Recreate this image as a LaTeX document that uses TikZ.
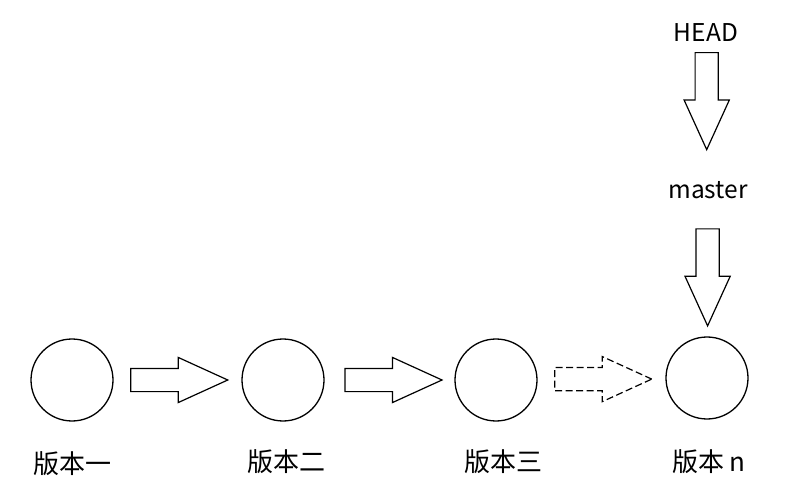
\documentclass[tikz,border=0pt]{standalone}
\usepackage{fontspec}
\setmainfont{Noto Sans CJK SC}
\usetikzlibrary{shapes.arrows,calc}

\begin{document}
\begin{tikzpicture}[
  x=1pt, y=-1pt,
  ver/.style={draw, circle, line width=1.3pt, minimum size=82pt, inner sep=0pt},
  lbl/.style={font=\fontsize{26}{30}\selectfont, inner sep=0pt},
  ref/.style={font=\fontsize{24.5}{28}\selectfont, inner sep=0pt},
  fat/.style={draw, single arrow, line width=1.2pt, inner sep=11pt,
    minimum height=97pt, minimum width=44pt, single arrow head extend=11pt,
    single arrow head indent=0pt, single arrow tip angle=49},
  fatdash/.style={fat, dash pattern=on 7pt off 3.5pt}
]
\useasboundingbox (0,0) rectangle (790,486);
\node[ver] (v1) at (72,380) {};
\node[ver] (v2) at (283,380) {};
\node[ver] (v3) at (496,380) {};
\node[ver] (vn) at (707,378) {};
\node[lbl] (l1) at (72,464) {版本一};
\node[lbl] (l2) at (286,462) {版本二};
\node[lbl] (l3) at (503,462) {版本三};
\node[lbl] (ln) at (709,462) {版本 n};
\node[ref] (head) at (706,33) {HEAD};
\node[ref] (master) at (708,190) {master};

\path (v1.center) -- node[fat, pos=0.448] (a1) {} (v2.center);
\path (v2.center) -- node[fat, pos=0.459] (a2) {} (v3.center);
\path (v3.center) -- node[fatdash, pos=0.448] (a3) {} (vn.center);
\path (head.center) -- node[fat, shape border rotate=270, pos=0.353] (ah) {} (master.center);
\path (master.center) -- node[fat, shape border rotate=270, pos=0.397] (am) {} (vn.center);
\end{tikzpicture}
\end{document}
